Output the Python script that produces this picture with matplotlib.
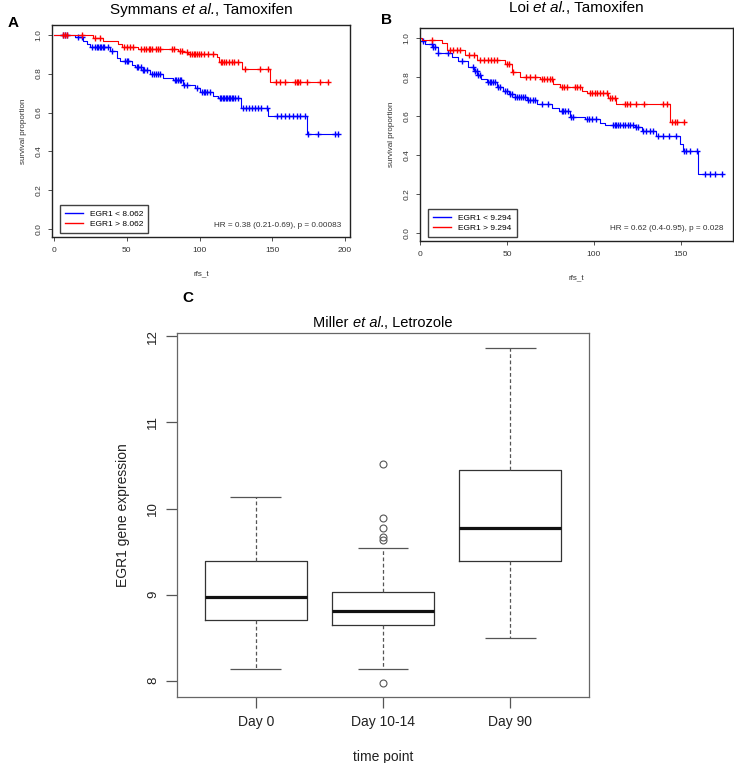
import numpy as np
import matplotlib
matplotlib.use("Agg")
import matplotlib.pyplot as plt
from matplotlib.offsetbox import TextArea, HPacker, AnchoredOffsetbox

plt.rcParams['font.family'] = ['Liberation Sans', 'DejaVu Sans']

# ---- panel A: Symmans et al. ----
a_lo_times = [14.4, 20.2, 22.5, 24.7, 38.5, 43.1, 45.4, 53.4, 55.7, 60, 66, 75.2, 82.1,
              88.8, 97, 100.3, 109.5, 113, 128.5, 146.9, 173.6]
a_lo_surv = [0.986, 0.969, 0.952, 0.935, 0.918, 0.880, 0.866, 0.845, 0.832, 0.82, 0.797,
             0.780, 0.768, 0.742, 0.725, 0.708, 0.687, 0.677, 0.622, 0.584, 0.488]
a_lo_cens = [6.4, 7.5, 8.7, 16.7, 19, 26, 28, 29.5, 30.5, 31.5, 32.5, 33.5, 34.5, 37.3, 39.6,
             48.8, 50, 51, 57, 58, 59.5, 61, 62, 63.7, 67, 68.5, 70, 71.5, 73, 83, 84, 85.5,
             86.6, 87.5, 89.5, 91.2, 98, 101.5, 103, 104, 105, 107.2, 114, 115, 116, 117, 118,
             119, 120, 121, 122, 123, 124.5, 126.7, 130, 132, 134, 136, 138, 140, 142, 146.2,
             153, 156, 159, 161.5, 164.5, 167, 169, 172.5, 174.5, 181.7, 193, 195.4]
a_hi_times = [27, 33.9, 44.2, 46.5, 58, 85.4, 88.8, 92.3, 111.8, 113.6, 129, 148.5]
a_hi_surv = [0.984, 0.969, 0.952, 0.935, 0.926, 0.918, 0.909, 0.90, 0.883, 0.862, 0.825, 0.756]
a_hi_cens = [6, 7.5, 8.7, 19, 28.2, 31.6, 48, 50, 52, 54.5, 60, 62, 63.5, 65, 66, 67, 70, 71.5,
             73, 81, 82.5, 86.6, 88, 91.2, 93.5, 95, 96, 97, 98.5, 99.5, 101, 103, 106, 109.5,
             114.5, 115.5, 116.5, 118, 120, 122, 123.5, 126.5, 131.3, 141.6, 147.3, 152.3,
             155.4, 158.8, 165.7, 167, 168, 169, 173.6, 182.8, 188.6]

# ---- panel B: Loi et al. ----
b_lo_times = [0.95, 3, 7, 10.5, 18.2, 22, 27.8, 31, 33, 35, 38.3, 44, 47.8, 51, 54.5, 61.3,
              67, 75.7, 80, 86, 95, 103.4, 106.3, 123.6, 127.4, 135.6, 149.4, 151.3, 160]
b_lo_surv = [0.985, 0.97, 0.955, 0.922, 0.9, 0.883, 0.849, 0.83, 0.81, 0.79, 0.772, 0.747,
             0.73, 0.713, 0.695, 0.684, 0.661, 0.64, 0.625, 0.594, 0.585, 0.565, 0.556,
             0.543, 0.522, 0.495, 0.457, 0.423, 0.301]
b_lo_cens = [1.5, 6.7, 7.7, 8.6, 10.5, 16.3, 24, 30.7, 31.5, 32.5, 33.5, 34.5, 39, 40, 41, 42,
             43, 45, 46, 49, 50, 52, 53, 54.5, 56, 57, 58, 59, 60.3, 62.3, 63.5, 65, 66, 70,
             73.8, 81.4, 82.5, 83.5, 85, 87, 88, 95.8, 97, 99, 101.5, 111, 112, 113, 114, 115,
             116.5, 118, 119.5, 121, 122.6, 124.5, 125.5, 128, 130, 132, 134, 137, 140, 143,
             147.5, 152, 153, 155, 159.5, 163.8, 166.5, 169.5, 173.4]
b_hi_times = [1, 12.5, 15.3, 25.9, 32.6, 48.9, 52.7, 57.5, 69, 76.6, 80.5, 93, 95.8, 108,
              113, 143.5]
b_hi_surv = [0.988, 0.971, 0.937, 0.911, 0.886, 0.865, 0.823, 0.801, 0.789, 0.763, 0.750,
             0.729, 0.717, 0.692, 0.661, 0.568]
b_hi_cens = [6.7, 17.5, 19, 21, 23, 28, 31, 34.5, 37, 39, 41, 42.5, 44, 50, 51, 53.5, 61,
             63.5, 66, 70, 71.5, 73, 74.5, 75.7, 81.5, 83, 84.5, 89, 90.5, 92, 97.7, 99, 100.5,
             102, 103.5, 105, 107.3, 109, 110.5, 112, 117.8, 119, 120.5, 124, 129, 140, 142,
             145, 146.5, 148, 151.6]

# ---- panel C: Miller et al. boxplot ----
c_labels = ["Day 0", "Day 10-14", "Day 90"]
c_whislo = [8.14, 8.14, 8.495]
c_q1 = [8.70, 8.65, 9.395]
c_med = [8.97, 8.81, 9.77]
c_q3 = [9.395, 9.035, 10.45]
c_whishi = [10.13, 9.54, 11.87]
c_fliers = [[], [10.52, 9.89, 9.77, 9.67, 9.64, 7.97], []]

W, H = 734, 763
fig = plt.figure(figsize=(W / 100, H / 100), dpi=100)


def px_axes(l, t, r, b):
    return fig.add_axes([l / W, 1 - b / H, (r - l) / W, (b - t) / H])


def title_parts(ax, author, rest, size, gap):
    # author + italic "et al." + rest, packed side by side
    parts = [TextArea(author + ' ', textprops=dict(fontsize=size)),
             TextArea('et al.', textprops=dict(fontsize=size, style='italic')),
             TextArea(', ' + rest, textprops=dict(fontsize=size))]
    box = HPacker(children=parts, align='baseline', pad=0, sep=0)
    anc = AnchoredOffsetbox(loc='lower center', child=box, pad=0, borderpad=0,
                            frameon=False, bbox_to_anchor=(0.5, 1.0 + gap),
                            bbox_transform=ax.transAxes)
    ax.add_artist(anc)


def km(ax, times, surv, cens, color):
    t = np.array([0.0] + times)
    s = np.array([1.0] + surv)
    end = max(max(cens), t[-1])
    ax.step(np.append(t, end), np.append(s, s[-1]), where='post', color=color, lw=0.8)
    c = np.array(cens)
    cy = s[np.searchsorted(t, c, side='right') - 1]
    ax.plot(c, cy, ls='none', marker='+', color=color, ms=5, mew=1.0)


def km_panel(ax, lo, hi, cut, hr, xticks, xlim, author, gap):
    km(ax, *lo, color='#0000ff')
    km(ax, *hi, color='#ff0000')
    ax.set_xlim(*xlim)
    ax.set_ylim(-0.04, 1.05)
    ax.set_xticks(xticks)
    ax.set_yticks([0, 0.2, 0.4, 0.6, 0.8, 1.0])
    ax.set_yticklabels(['0.0', '0.2', '0.4', '0.6', '0.8', '1.0'], rotation=90, va='center')
    ax.tick_params(labelsize=6, length=3, width=0.6, colors='#333333', pad=4)
    for sp in ax.spines.values():
        sp.set_linewidth(1.0)
        sp.set_color('#222222')
    ax.set_xlabel('rfs_t', fontsize=5.8, color='#333333', labelpad=12)
    ax.set_ylabel('survival proportion', fontsize=5.8, color='#333333', labelpad=6)
    title_parts(ax, author, 'Tamoxifen', 11, gap)
    h1, = ax.plot([], [], color='#0000ff', lw=1)
    h2, = ax.plot([], [], color='#ff0000', lw=1)
    leg = ax.legend([h1, h2], ['EGR1 < ' + cut, 'EGR1 > ' + cut], loc='lower left',
                    bbox_to_anchor=(0.027, 0.02), borderaxespad=0, fontsize=6,
                    fancybox=False, handlelength=2.1, borderpad=0.6, labelspacing=0.2,
                    handletextpad=0.9)
    leg.get_frame().set_edgecolor('#111111')
    leg.get_frame().set_linewidth(1.0)
    ax.text(0.97, 0.04, hr, transform=ax.transAxes, ha='right', va='bottom',
            fontsize=5.9, color='#333333')


axA = px_axes(52, 25, 350, 237)
km_panel(axA, (a_lo_times, a_lo_surv, a_lo_cens), (a_hi_times, a_hi_surv, a_hi_cens),
         '8.062', 'HR = 0.38 (0.21-0.69), p = 0.00083', [0, 50, 100, 150, 200],
         (-1.4, 203.4), 'Symmans', 0.04)

axB = px_axes(420, 28, 733, 241)
km_panel(axB, (b_lo_times, b_lo_surv, b_lo_cens), (b_hi_times, b_hi_surv, b_hi_cens),
         '9.294', 'HR = 0.62 (0.4-0.95), p = 0.028', [0, 50, 100, 150],
         (0, 180), 'Loi', 0.063)

axC = px_axes(177, 333, 589, 697)
stats = []
for i in range(3):
    stats.append(dict(med=c_med[i], q1=c_q1[i], q3=c_q3[i], whislo=c_whislo[i],
                      whishi=c_whishi[i], fliers=c_fliers[i], label=c_labels[i]))
axC.bxp(stats, positions=[1, 2, 3], widths=0.8, patch_artist=False,
        boxprops=dict(color='#333333', lw=0.9),
        whiskerprops=dict(color='#555555', lw=0.9, ls=(0, (3, 2))),
        capprops=dict(color='#555555', lw=0.9, solid_capstyle='butt'),
        capwidths=0.4,
        medianprops=dict(color='#111111', lw=2.3, solid_capstyle='butt'),
        flierprops=dict(marker='o', mfc='none', mec='#555555', ms=5, mew=0.8))
axC.set_xlim(0.38, 3.62)
axC.set_ylim(7.81, 12.04)
axC.set_yticks([8, 9, 10, 11, 12])
axC.set_yticklabels(['8', '9', '10', '11', '12'], rotation=90, va='center')
axC.tick_params(labelsize=9.5, length=8, width=0.9, colors='#555555', labelcolor='#222222', pad=5)
axC.tick_params(axis='x', labelsize=10)
for sp in axC.spines.values():
    sp.set_linewidth(0.9)
    sp.set_color('#666666')
axC.set_xlabel('time point', fontsize=10, color='#222222', labelpad=15)
axC.set_ylabel('EGR1 gene expression', fontsize=10, color='#222222', labelpad=12)
title_parts(axC, 'Miller', 'Letrozole', 10.5, 0.008)

fig.text(8 / W, 1 - 23 / H, 'A', fontsize=11, fontweight='bold', va='center', ha='left')
fig.text(381 / W, 1 - 20 / H, 'B', fontsize=11, fontweight='bold', va='center', ha='left')
fig.text(182 / W, 1 - 298 / H, 'C', fontsize=11, fontweight='bold', va='center', ha='left')

fig.savefig('out.png', dpi=100)
